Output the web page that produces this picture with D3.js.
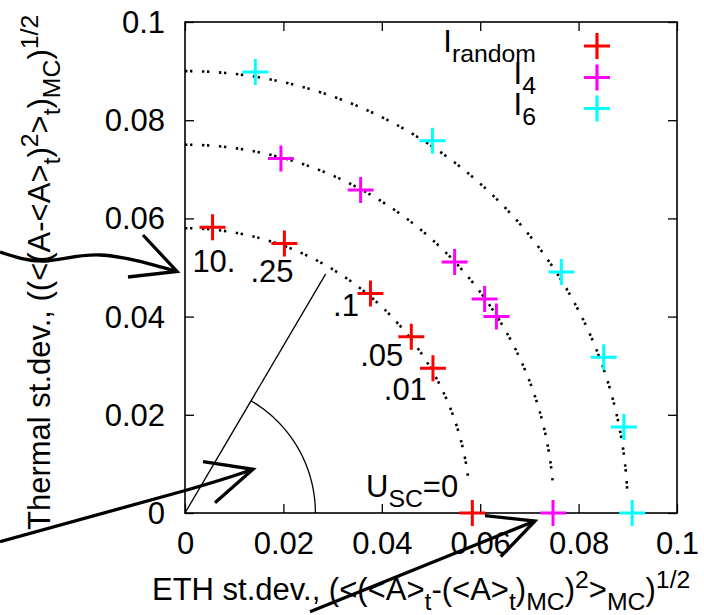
<!DOCTYPE html>
<html><head><meta charset="utf-8">
<script src="https://cdn.jsdelivr.net/npm/d3@7"></script>
<style>
body{margin:0;background:#fff;}
svg{display:block;font-family:"Liberation Sans",Arial,Helvetica,sans-serif;}
</style></head>
<body>
<svg id="c" width="704" height="615"></svg>
<script>
// ---- data ----
const xTicks = [0, 0.02, 0.04, 0.06, 0.08, 0.1];
const xTickLabels = ["0", "0.02", "0.04", "0.06", "0.08", "0.1"];
const yTicks = [0, 0.02, 0.04, 0.06, 0.08, 0.1];
const yTickLabels = ["0", "0.02", "0.04", "0.06", "0.08", "0.1"];

const seriesNames = ["random", "4", "6"];
const seriesColors = ["#ff0000", "#ff00ff", "#00ffff"];
const randomX = [0.0056, 0.0202, 0.0377, 0.0460, 0.0504, 0.0584];
const randomY = [0.0582, 0.0549, 0.0447, 0.0359, 0.0295, 0.0];
const i4X = [0.0195, 0.0357, 0.0548, 0.0609, 0.0633, 0.0748];
const i4Y = [0.0722, 0.0658, 0.0511, 0.0436, 0.0400, 0.0];
const i6X = [0.0143, 0.0503, 0.0765, 0.0851, 0.0892, 0.0909];
const i6Y = [0.0898, 0.0758, 0.0491, 0.0317, 0.0175, 0.0];

// dotted reference circles: radius and lowest y reached
const circleRadii = [0.058, 0.075, 0.090];
const circleEndY = [0.0074, 0.0064, 0.0047];

// labels on the red points (U values)
const uLabels = ["10.", ".25", ".1", ".05", ".01"];
const uLabelX = [0.0015, 0.0133, 0.0301, 0.0356, 0.0404];
const uLabelY = [0.0491, 0.0470, 0.0401, 0.0300, 0.0230];

// angle annotation (data units)
const angleLineEnd = [0.0286, 0.0487];
const angleArcR = 0.0265;

const W = 704, H = 615;
const m = {l: 185, r: 27, t: 22, b: 102};
const svg = d3.select("#c");
const x = d3.scaleLinear().domain([0, 0.1]).range([m.l, W - m.r]);
const y = d3.scaleLinear().domain([0, 0.1]).range([H - m.b, m.t]);
const FS = 31;
const FF = '"Liberation Sans",Arial,sans-serif';

// ---- axes ----
const gx = svg.append("g").attr("transform", `translate(0,${y(0)})`)
  .call(d3.axisBottom(x).tickValues(xTicks).tickFormat((d, i) => xTickLabels[i]).tickSize(-9).tickPadding(19));
const gxt = svg.append("g").attr("transform", `translate(0,${y(0.1)})`)
  .call(d3.axisTop(x).tickValues(xTicks).tickFormat("").tickSize(-9));
const gy = svg.append("g").attr("transform", `translate(${x(0)},0)`)
  .call(d3.axisLeft(y).tickValues(yTicks).tickFormat((d, i) => yTickLabels[i]).tickSize(-9).tickPadding(20));
const gyr = svg.append("g").attr("transform", `translate(${x(0.1)},0)`)
  .call(d3.axisRight(y).tickValues(yTicks).tickFormat("").tickSize(-9));
[gx, gxt, gy, gyr].forEach(g => {
  g.attr("font-size", FS).attr("font-family", FF);
  g.select(".domain").remove();
  g.selectAll(".tick line").attr("stroke", "#000").attr("stroke-width", 1.3);
  g.selectAll("text").attr("font-size", FS).attr("fill", "#000").attr("font-family", FF);
});
gy.selectAll("text").attr("dy", "0.34em");
svg.append("rect").attr("x", x(0)).attr("y", y(0.1))
  .attr("width", x(0.1) - x(0)).attr("height", y(0) - y(0.1))
  .attr("fill", "none").attr("stroke", "#000").attr("stroke-width", 1.6);

// ---- dotted circles ----
circleRadii.forEach((r, i) => {
  const a0 = Math.asin(circleEndY[i] / r);
  const pts = d3.range(0, 101).map(k => {
    const a = a0 + (Math.PI / 2 - a0) * k / 100;
    return [x(r * Math.cos(a)), y(r * Math.sin(a))];
  });
  svg.append("path").attr("d", d3.line()(pts.reverse()))
    .attr("fill", "none").attr("stroke", "#000").attr("stroke-width", 2.6)
    .attr("stroke-dasharray", "2.4 2.6 2.4 9.6");
});

// ---- angle annotation ----
svg.append("line").attr("x1", x(0)).attr("y1", y(0))
  .attr("x2", x(angleLineEnd[0])).attr("y2", y(angleLineEnd[1]))
  .attr("stroke", "#000").attr("stroke-width", 1.3);
const angTop = Math.atan2(angleLineEnd[1], angleLineEnd[0]);
const arcPts = d3.range(0, 61).map(k => {
  const a = angTop * k / 60;
  return [x(angleArcR * Math.cos(a)), y(angleArcR * Math.sin(a))];
});
svg.append("path").attr("d", d3.line()(arcPts)).attr("fill", "none")
  .attr("stroke", "#000").attr("stroke-width", 1.3);

// ---- points ----
const cross = "M-13,0H13M0,-13V13";
const series = [[randomX, randomY], [i4X, i4Y], [i6X, i6Y]];
series.forEach(([xs, ys], si) => {
  svg.append("g").selectAll("path").data(xs).join("path")
    .attr("d", cross)
    .attr("transform", (d, i) => `translate(${x(d)},${y(ys[i])})`)
    .attr("stroke", seriesColors[si]).attr("stroke-width", 3).attr("fill", "none");
});

// ---- U labels ----
svg.append("g").selectAll("text").data(uLabels).join("text")
  .attr("x", (d, i) => x(uLabelX[i])).attr("y", (d, i) => y(uLabelY[i]))
  .attr("font-size", FS).text(d => d);

// helper for rich text (sub/superscripts)
function rich(t, parts, size) {
  let shift = 0;
  parts.forEach(([s, kind]) => {
    let target = 0, fs = size;
    if (kind === "sub") { target = 10; fs = size * 0.8; }
    if (kind === "sup") { target = -12; fs = size * 0.8; }
    t.append("tspan").attr("dy", target - shift).attr("font-size", fs).text(s);
    shift = target;
  });
}

// U_SC=0
rich(svg.append("text").attr("x", 366).attr("y", 497).attr("font-size", FS),
  [["U", ""], ["SC", "sub"], ["=0", ""]], FS);

// ---- legend ----
const legY = [46, 77.5, 108.5];
seriesNames.forEach((n, i) => {
  const t = svg.append("text").attr("x", 536).attr("y", legY[i] + 6)
    .attr("text-anchor", "end").attr("font-size", FS);
  rich(t, [["I", ""], [n, "sub"]], FS);
  svg.append("path").attr("d", cross).attr("transform", `translate(597,${legY[i]})`)
    .attr("stroke", seriesColors[i]).attr("stroke-width", 3.2).attr("fill", "none");
});

// ---- axis titles ----
rich(svg.append("text").attr("x", 152).attr("y", 600).attr("font-size", FS),
  [["ETH st.dev., (<(<A>", ""], ["t", "sub"], ["-(<A>", ""], ["t", "sub"], [")", ""], ["MC", "sub"],
   [")", ""], ["2", "sup"], [">", ""], ["MC", "sub"], [")", ""], ["1/2", "sup"]], FS);
rich(svg.append("text").attr("transform", "translate(50,530) rotate(-90)").attr("font-size", FS),
  [["Thermal st.dev., ((<(A-<A>", ""], ["t", "sub"], [")", ""], ["2", "sup"], [">", ""], ["t", "sub"],
   [")", ""], ["MC", "sub"], [")", ""], ["1/2", "sup"]], FS);

// ---- hand-drawn arrows (in data units) ----
const px2d = p => [x.invert(p[0]), y.invert(p[1])];
const arrows = [
  {path: [[0, 252], [45, 261], [100, 255], [177, 271.5]], head: [[143, 235], [177, 271.5], [128, 277]]},
  {path: [[0, 541.7], [187, 490], [253, 469.3]], head: [[203, 461.7], [253, 469.3], [215, 502.7]]},
  {path: [[310, 611.7], [535, 521]], head: [[485, 515.7], [535, 521], [500.7, 556.7]]}
].map(a => ({path: a.path.map(px2d), head: a.head.map(px2d)}));
const lc = d3.line().x(d => x(d[0])).y(d => y(d[1])).curve(d3.curveNatural);
const ls = d3.line().x(d => x(d[0])).y(d => y(d[1]));
arrows.forEach(a => {
  svg.append("path").attr("d", lc(a.path)).attr("fill", "none").attr("stroke", "#000")
    .attr("stroke-width", 3.3).attr("stroke-linecap", "butt");
  svg.append("path").attr("d", ls(a.head)).attr("fill", "none").attr("stroke", "#000")
    .attr("stroke-width", 3.3).attr("stroke-linejoin", "miter");
});
</script>
</body></html>
